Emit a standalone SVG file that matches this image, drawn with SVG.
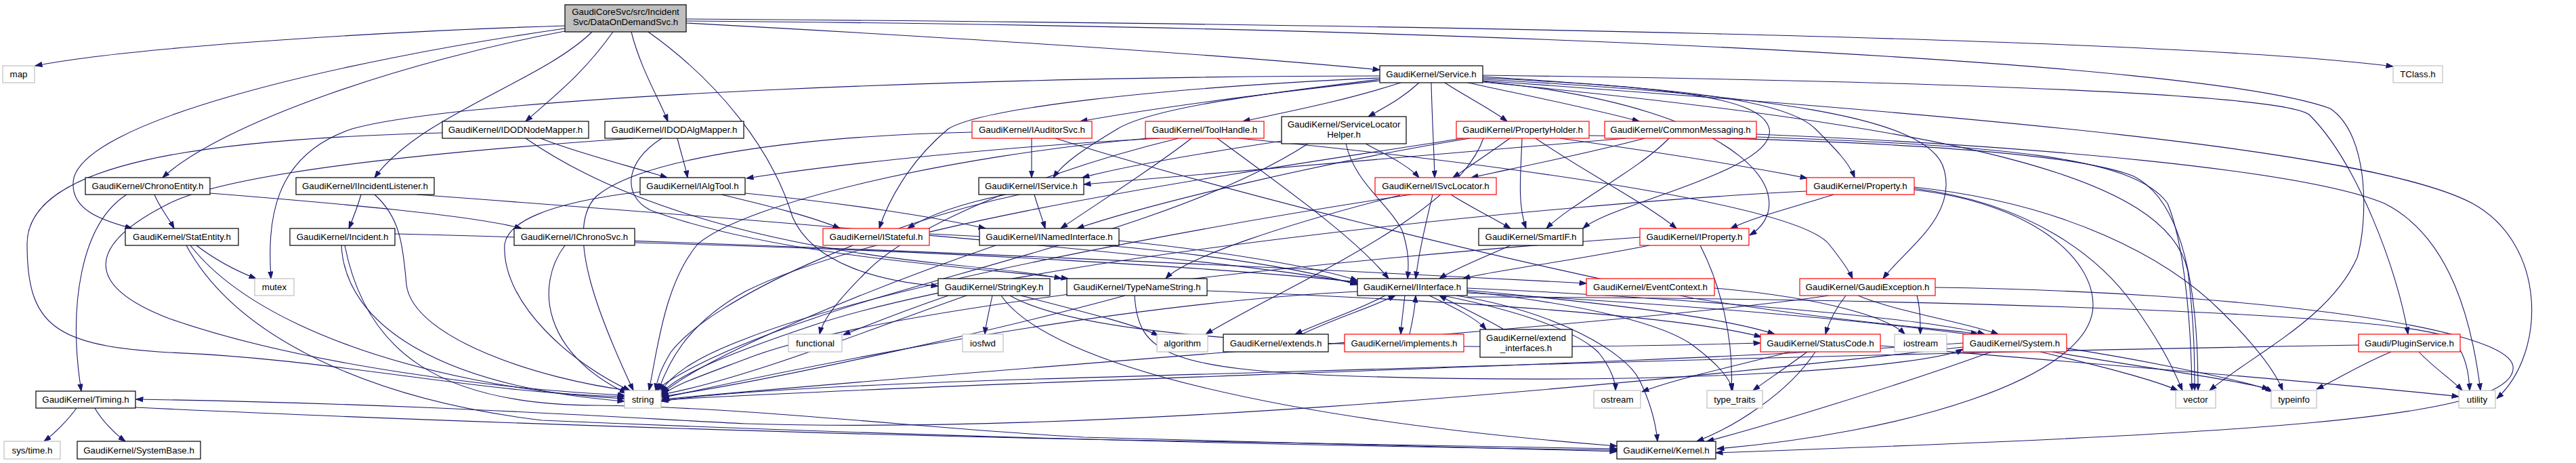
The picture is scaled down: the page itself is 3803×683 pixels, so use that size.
<svg xmlns="http://www.w3.org/2000/svg" width="3803" height="683" viewBox="0 0 3803 683">
<defs>
<marker id="a" markerUnits="userSpaceOnUse" markerWidth="11" markerHeight="8" refX="10" refY="4" orient="auto" viewBox="0 0 10 8"><path d="M0,0.5 L10,4 L0,7.5z" fill="#191970" stroke="#191970" stroke-width="1"/></marker>
</defs>
<style>
.n rect{fill:#fff;stroke:#000;stroke-width:1.2}
.r rect{stroke:#ff0000}
.g rect{stroke:#bfbfbf}
.root rect{fill:#bfbfbf}
text{font-family:"Liberation Sans",Arial,Helvetica,sans-serif;font-size:13.33px;text-anchor:middle;fill:#000}
.e path{fill:none;stroke:#191970;stroke-width:1.1;marker-end:url(#a)}
</style>
<rect width="3803" height="683" fill="#fff"/>
<g id="connectors" class="e">
<path d="M834,38 C600,45 200,68 52,97"/>
<path d="M834,42 C500,90 110,180 108,270 C106,310 150,325 195,337"/>
<path d="M834,46 C600,90 330,180 240,262"/>
<path d="M874,47 C800,120 620,170 553,262"/>
<path d="M905,47 C860,110 820,140 776,179"/>
<path d="M932,47 C945,100 975,150 986,179"/>
<path d="M957,47 C1060,120 1140,220 1170,320 C1200,390 1300,415 1385,422"/>
<path d="M1013,34 C1400,55 1800,80 2037,103"/>
<path d="M1013,28 C2000,35 3200,55 3533,98"/>
<path d="M1013,31 C2200,40 3250,90 3440,160 C3500,200 3495,330 3480,380 C3440,470 3330,520 3262,576"/>
<path d="M2037,112 C1500,112 700,140 520,190 C400,230 395,330 400,411"/>
<path d="M2037,117 C1850,140 1700,160 1650,190 C1600,220 1570,240 1555,262"/>
<path d="M2037,119 C1850,140 1700,160 1595,179"/>
<path d="M2068,122 C1980,150 1900,165 1835,179"/>
<path d="M2095,122 C2070,145 2050,155 2020,172"/>
<path d="M2113,122 C2114,170 2117,220 2118,262"/>
<path d="M2133,122 C2160,140 2200,160 2225,179"/>
<path d="M2167,122 C2250,140 2350,160 2420,179"/>
<path d="M2037,115 C1700,130 1450,160 1400,190 C1340,240 1310,300 1298,337"/>
<path d="M2189,113 C2450,130 2600,140 2612,190 C2625,250 2380,300 2337,337"/>
<path d="M2189,115 C2500,130 2640,150 2680,190 C2710,220 2730,240 2738,262"/>
<path d="M2189,117 C2600,140 2850,170 2870,250 C2890,320 2810,370 2780,411"/>
<path d="M2189,111 C2900,120 3380,140 3410,170 C3480,240 3540,400 3555,493"/>
<path d="M2189,119 C2900,170 3500,220 3650,300 C3760,360 3760,520 3686,588"/>
<path d="M2189,121 C2900,190 3200,260 3230,400 C3240,480 3240,540 3240,576"/>
<path d="M2189,120 C2600,160 2660,300 2583,347"/>
<path d="M187,287 C120,330 100,450 120,577"/>
<path d="M228,287 C235,305 248,320 257,337"/>
<path d="M310,285 C500,300 700,318 770,337"/>
<path d="M290,362 C320,385 350,400 378,411"/>
<path d="M281,362 C350,450 500,520 700,560 C800,580 870,585 922,588"/>
<path d="M275,362 C350,500 550,590 800,620 C1500,650 2100,660 2387,664"/>
<path d="M583,345 C1200,360 2000,400 2342,418"/>
<path d="M504,362 C510,480 650,570 922,592"/>
<path d="M509,362 C540,520 650,597 880,598 C1100,600 1400,635 1600,645 C2000,655 2250,662 2387,666"/>
<path d="M533,287 C528,305 522,320 515,337"/>
<path d="M553,287 C590,320 595,360 600,420 C610,500 800,560 928,576"/>
<path d="M615,287 C1200,330 1800,380 2004,418"/>
<path d="M798,204 C850,225 930,245 985,262"/>
<path d="M653,196 C300,205 40,240 40,360 C40,480 80,510 250,520 C500,530 700,580 922,585"/>
<path d="M776,204 C900,290 1100,360 1400,390 C1480,398 1530,403 1567,411"/>
<path d="M1000,204 C1005,225 1012,245 1015,262"/>
<path d="M935,204 C700,220 350,250 250,300 C130,360 120,420 250,470 C450,540 750,575 922,583"/>
<path d="M977,204 C920,240 920,290 960,310 C1150,380 1450,395 1577,411"/>
<path d="M1065,287 C1140,305 1200,320 1240,337"/>
<path d="M945,283 C800,300 750,330 745,360 C740,450 850,540 930,576"/>
<path d="M1100,285 C1250,300 1380,320 1455,337"/>
<path d="M1523,204 C1523,225 1523,245 1523,262"/>
<path d="M1435,195 C1200,200 950,230 880,290 C830,340 890,480 935,576"/>
<path d="M1558,204 C1800,280 2200,380 2500,440 C2750,480 2880,485 2920,493"/>
<path d="M1712,204 C1500,215 1250,240 1102,263"/>
<path d="M1695,204 C1400,230 1100,300 1030,360 C980,420 970,520 958,576"/>
<path d="M1759,204 C1700,250 1620,300 1566,337"/>
<path d="M1797,204 C1900,280 2000,350 2050,411"/>
<path d="M1829,204 C2200,240 2650,300 2700,360 C2720,385 2730,400 2735,411"/>
<path d="M1740,204 C1550,250 1350,330 1280,400 C1240,440 1215,470 1210,493"/>
<path d="M2016,212 C2050,230 2080,245 2095,262"/>
<path d="M1892,208 C1780,225 1660,245 1598,262"/>
<path d="M1987,212 C2000,270 2050,300 2070,340 C2080,370 2080,390 2078,411"/>
<path d="M1931,212 C1750,330 1400,400 1200,470 C1080,510 1000,550 968,576"/>
<path d="M2229,204 C2200,225 2170,245 2145,262"/>
<path d="M2267,204 C2350,260 2430,300 2475,337"/>
<path d="M2303,204 C2450,225 2580,245 2668,263"/>
<path d="M2247,204 C2245,260 2240,300 2253,337"/>
<path d="M2160,204 C1800,260 1300,330 1100,430 C1010,480 985,540 972,576"/>
<path d="M2170,204 C1950,240 1700,300 1590,337"/>
<path d="M2346,200 C2700,205 3050,220 3150,260 C3230,300 3245,450 3245,576"/>
<path d="M2190,204 C2150,320 1900,420 1780,493"/>
<path d="M2428,204 C2350,225 2250,245 2172,262"/>
<path d="M2464,204 C2420,250 2320,300 2283,337"/>
<path d="M2400,204 C2100,230 1800,255 1600,272"/>
<path d="M2593,198 C3000,215 3400,250 3520,300 C3620,350 3650,480 3662,576"/>
<path d="M2593,202 C2950,215 3150,230 3200,300 C3225,360 3235,480 3236,576"/>
<path d="M2115,287 C2105,330 2095,370 2090,411"/>
<path d="M2142,287 C2170,305 2205,322 2230,337"/>
<path d="M2083,287 C1800,330 1300,420 1100,500 C1020,530 990,555 975,578"/>
<path d="M2067,288 C1900,330 1750,380 1721,411"/>
<path d="M2707,287 C2650,305 2590,320 2555,337"/>
<path d="M2667,282 C2300,300 1500,380 1200,480 C1050,530 990,560 976,582"/>
<path d="M2826,280 C3000,300 3090,380 3090,450 C3090,560 2800,640 2535,662"/>
<path d="M2826,278 C3000,300 3100,380 3150,450 C3200,520 3215,560 3222,576"/>
<path d="M2826,276 C3050,300 3200,380 3280,460 C3330,510 3360,550 3370,576"/>
<path d="M1527,287 C1532,305 1538,320 1543,337"/>
<path d="M1505,287 C1300,330 1050,440 990,520 C975,545 970,560 968,576"/>
<path d="M1485,287 C1420,300 1370,318 1340,337"/>
<path d="M1372,345 C1700,360 1900,390 2004,420"/>
<path d="M1652,355 C1800,370 1950,395 2004,414"/>
<path d="M1470,362 C1300,420 1050,520 978,580"/>
<path d="M2230,362 C2190,380 2150,395 2125,411"/>
<path d="M2435,362 C2320,385 2200,400 2160,411"/>
<path d="M2421,350 C2000,380 1300,450 1100,530 C1020,560 990,570 976,585"/>
<path d="M2510,362 C2540,420 2560,500 2556,576"/>
<path d="M834,362 C790,420 800,520 925,580"/>
<path d="M937,358 C1400,370 1800,395 2004,416"/>
<path d="M2150,436 C2300,460 2400,520 2420,560 C2440,600 2445,630 2447,651"/>
<path d="M2130,436 C2250,460 2330,490 2360,520 C2380,545 2385,565 2385,576"/>
<path d="M2166,430 C2350,450 2460,480 2500,510 C2540,540 2555,560 2558,576"/>
<path d="M2166,428 C2400,450 2550,470 2620,493"/>
<path d="M2166,425 C2500,440 2850,470 2930,493"/>
<path d="M2166,432 C2700,460 3000,500 3200,540 C3300,560 3340,570 3355,578"/>
<path d="M2004,430 C1600,450 1100,560 977,587"/>
<path d="M2045,436 C2000,460 1950,475 1912,493"/>
<path d="M1922,493 C1970,470 2020,455 2060,436"/>
<path d="M2074,436 C2072,455 2069,475 2068,493"/>
<path d="M2081,493 C2085,475 2089,455 2090,436"/>
<path d="M2110,436 C2150,455 2180,470 2194,486"/>
<path d="M2220,486 C2190,468 2150,450 2125,436"/>
<path d="M2166,438 C2800,440 3550,460 3620,500 C3640,520 3645,550 3646,576"/>
<path d="M2643,519 C2560,540 2470,560 2424,578"/>
<path d="M2668,519 C2640,540 2610,560 2588,576"/>
<path d="M2680,519 C2640,580 2560,630 2505,651"/>
<path d="M2776,510 C3000,530 3400,560 3630,585"/>
<path d="M2940,519 C2800,570 2600,630 2520,651"/>
<path d="M3012,519 C3100,540 3180,560 3215,576"/>
<path d="M3030,519 C3150,540 3300,560 3350,574"/>
<path d="M2898,512 C2300,580 1600,640 1100,625 C900,615 600,595 201,589"/>
<path d="M2898,506 C2400,540 1500,560 976,590"/>
<path d="M113,602 C100,620 80,640 65,651"/>
<path d="M140,602 C150,620 170,640 185,651"/>
<path d="M200,601 C600,620 1200,640 1600,648 C2000,655 2250,660 2387,662"/>
<path d="M3482,509 C2800,520 2200,540 1500,560 C1200,570 1050,580 976,592"/>
<path d="M3530,519 C3480,540 3450,560 3420,574"/>
<path d="M3571,519 C3590,540 3620,560 3635,576"/>
<path d="M2531,425 C2700,440 2790,470 2812,493"/>
<path d="M2725,436 C2710,455 2700,475 2695,493"/>
<path d="M2743,436 C2800,460 2900,475 2950,493"/>
<path d="M2830,436 C2835,455 2835,475 2835,493"/>
<path d="M2700,436 C2400,480 1500,540 978,589"/>
<path d="M2857,424 C3300,430 3700,480 3710,540 C3720,620 3300,640 2533,668"/>
<path d="M1465,436 C1460,460 1455,480 1454,493"/>
<path d="M1507,436 C1600,460 1680,480 1710,495"/>
<path d="M1427,436 C1300,480 1100,560 976,582"/>
<path d="M1478,436 C1550,540 1900,620 2387,658"/>
<path d="M1400,436 C1330,460 1280,480 1245,494"/>
<path d="M1491,436 C1620,510 2100,520 2599,506"/>
<path d="M1661,436 C1500,480 1150,560 977,585"/>
<path d="M1675,436 C1680,520 1720,545 2000,555 C2500,570 2850,540 2898,515"/>
<path d="M1782,429 C2200,445 2500,470 2600,497"/>
</g>
<g id="n_root" class="n root"><rect x="834" y="7" width="179" height="40"/><text x="923.5" y="22">GaudiCoreSvc/src/Incident</text><text x="923.5" y="37">Svc/DataOnDemandSvc.h</text></g>
<g id="n_map" class="n g"><rect x="4" y="97" width="47" height="25"/><text x="27.5" y="114">map</text></g>
<g id="n_TClass" class="n g"><rect x="3533" y="97" width="73" height="25"/><text x="3569.5" y="114">TClass.h</text></g>
<g id="n_Service" class="n"><rect x="2037" y="97" width="152" height="25"/><text x="2113" y="114">GaudiKernel/Service.h</text></g>
<g id="n_IDODNodeMapper" class="n"><rect x="653" y="179" width="216" height="25"/><text x="761" y="196">GaudiKernel/IDODNodeMapper.h</text></g>
<g id="n_IDODAlgMapper" class="n"><rect x="893" y="179" width="205" height="25"/><text x="995.5" y="196">GaudiKernel/IDODAlgMapper.h</text></g>
<g id="n_IAuditorSvc" class="n r"><rect x="1435" y="179" width="177" height="25"/><text x="1523.5" y="196">GaudiKernel/IAuditorSvc.h</text></g>
<g id="n_ToolHandle" class="n r"><rect x="1691" y="179" width="175" height="25"/><text x="1778.5" y="196">GaudiKernel/ToolHandle.h</text></g>
<g id="n_ServiceLocatorHelper" class="n"><rect x="1892" y="172" width="184" height="40"/><text x="1984" y="188">GaudiKernel/ServiceLocator</text><text x="1984" y="203">Helper.h</text></g>
<g id="n_PropertyHolder" class="n r"><rect x="2150" y="179" width="196" height="25"/><text x="2248" y="196">GaudiKernel/PropertyHolder.h</text></g>
<g id="n_CommonMessaging" class="n r"><rect x="2369" y="179" width="224" height="25"/><text x="2481" y="196">GaudiKernel/CommonMessaging.h</text></g>
<g id="n_ChronoEntity" class="n"><rect x="126" y="262" width="184" height="25"/><text x="218" y="279">GaudiKernel/ChronoEntity.h</text></g>
<g id="n_IIncidentListener" class="n"><rect x="437" y="262" width="204" height="25"/><text x="539" y="279">GaudiKernel/IIncidentListener.h</text></g>
<g id="n_IAlgTool" class="n"><rect x="945" y="262" width="155" height="25"/><text x="1022.5" y="279">GaudiKernel/IAlgTool.h</text></g>
<g id="n_IService" class="n"><rect x="1445" y="262" width="155" height="25"/><text x="1522.5" y="279">GaudiKernel/IService.h</text></g>
<g id="n_ISvcLocator" class="n r"><rect x="2030" y="262" width="179" height="25"/><text x="2119.5" y="279">GaudiKernel/ISvcLocator.h</text></g>
<g id="n_Property" class="n r"><rect x="2667" y="262" width="159" height="25"/><text x="2746.5" y="279">GaudiKernel/Property.h</text></g>
<g id="n_StatEntity" class="n"><rect x="185" y="337" width="167" height="25"/><text x="268.5" y="354">GaudiKernel/StatEntity.h</text></g>
<g id="n_Incident" class="n"><rect x="428" y="337" width="155" height="25"/><text x="505.5" y="354">GaudiKernel/Incident.h</text></g>
<g id="n_IChronoSvc" class="n"><rect x="759" y="337" width="178" height="25"/><text x="848" y="354">GaudiKernel/IChronoSvc.h</text></g>
<g id="n_IStateful" class="n r"><rect x="1215" y="337" width="157" height="25"/><text x="1293.5" y="354">GaudiKernel/IStateful.h</text></g>
<g id="n_INamedInterface" class="n"><rect x="1446" y="337" width="206" height="25"/><text x="1549" y="354">GaudiKernel/INamedInterface.h</text></g>
<g id="n_SmartIF" class="n"><rect x="2183" y="337" width="154" height="25"/><text x="2260" y="354">GaudiKernel/SmartIF.h</text></g>
<g id="n_IProperty" class="n r"><rect x="2421" y="337" width="161" height="25"/><text x="2501.5" y="354">GaudiKernel/IProperty.h</text></g>
<g id="n_mutex" class="n g"><rect x="376" y="411" width="58" height="25"/><text x="405" y="428">mutex</text></g>
<g id="n_StringKey" class="n"><rect x="1385" y="411" width="165" height="25"/><text x="1467.5" y="428">GaudiKernel/StringKey.h</text></g>
<g id="n_TypeNameString" class="n"><rect x="1575" y="411" width="207" height="25"/><text x="1678.5" y="428">GaudiKernel/TypeNameString.h</text></g>
<g id="n_IInterface" class="n"><rect x="2004" y="411" width="162" height="25"/><text x="2085" y="428">GaudiKernel/IInterface.h</text></g>
<g id="n_EventContext" class="n r"><rect x="2342" y="411" width="189" height="25"/><text x="2436.5" y="428">GaudiKernel/EventContext.h</text></g>
<g id="n_GaudiException" class="n r"><rect x="2657" y="411" width="200" height="25"/><text x="2757" y="428">GaudiKernel/GaudiException.h</text></g>
<g id="n_functional" class="n g"><rect x="1164" y="493" width="79" height="26"/><text x="1203.5" y="511">functional</text></g>
<g id="n_iosfwd" class="n g"><rect x="1421" y="493" width="60" height="26"/><text x="1451" y="511">iosfwd</text></g>
<g id="n_algorithm" class="n g"><rect x="1708" y="493" width="75" height="26"/><text x="1745.5" y="511">algorithm</text></g>
<g id="n_extends" class="n"><rect x="1806" y="493" width="155" height="26"/><text x="1883.5" y="511">GaudiKernel/extends.h</text></g>
<g id="n_implements" class="n r"><rect x="1985" y="493" width="176" height="26"/><text x="2073" y="511">GaudiKernel/implements.h</text></g>
<g id="n_extend_interfaces" class="n"><rect x="2185" y="486" width="136" height="41"/><text x="2253" y="503">GaudiKernel/extend</text><text x="2253" y="518">_interfaces.h</text></g>
<g id="n_StatusCode" class="n r"><rect x="2599" y="493" width="177" height="26"/><text x="2687.5" y="511">GaudiKernel/StatusCode.h</text></g>
<g id="n_iostream" class="n g"><rect x="2797" y="493" width="77" height="26"/><text x="2835.5" y="511">iostream</text></g>
<g id="n_System" class="n r"><rect x="2898" y="493" width="153" height="26"/><text x="2974.5" y="511">GaudiKernel/System.h</text></g>
<g id="n_PluginService" class="n r"><rect x="3482" y="493" width="150" height="26"/><text x="3557" y="511">Gaudi/PluginService.h</text></g>
<g id="n_Timing" class="n"><rect x="53" y="577" width="147" height="25"/><text x="126.5" y="594">GaudiKernel/Timing.h</text></g>
<g id="n_string" class="n g"><rect x="922" y="576" width="54" height="26"/><text x="949" y="594">string</text></g>
<g id="n_ostream" class="n g"><rect x="2353" y="576" width="69" height="26"/><text x="2387.5" y="594">ostream</text></g>
<g id="n_type_traits" class="n g"><rect x="2520" y="576" width="82" height="26"/><text x="2561" y="594">type_traits</text></g>
<g id="n_vector" class="n g"><rect x="3212" y="576" width="59" height="26"/><text x="3241.5" y="594">vector</text></g>
<g id="n_typeinfo" class="n g"><rect x="3353" y="576" width="67" height="26"/><text x="3386.5" y="594">typeinfo</text></g>
<g id="n_utility" class="n g"><rect x="3630" y="576" width="54" height="26"/><text x="3657" y="594">utility</text></g>
<g id="n_systime" class="n g"><rect x="6" y="651" width="83" height="26"/><text x="47.5" y="669">sys/time.h</text></g>
<g id="n_SystemBase" class="n"><rect x="114" y="651" width="182" height="26"/><text x="205" y="669">GaudiKernel/SystemBase.h</text></g>
<g id="n_Kernel" class="n"><rect x="2387" y="651" width="146" height="26"/><text x="2460" y="669">GaudiKernel/Kernel.h</text></g>
</svg>
